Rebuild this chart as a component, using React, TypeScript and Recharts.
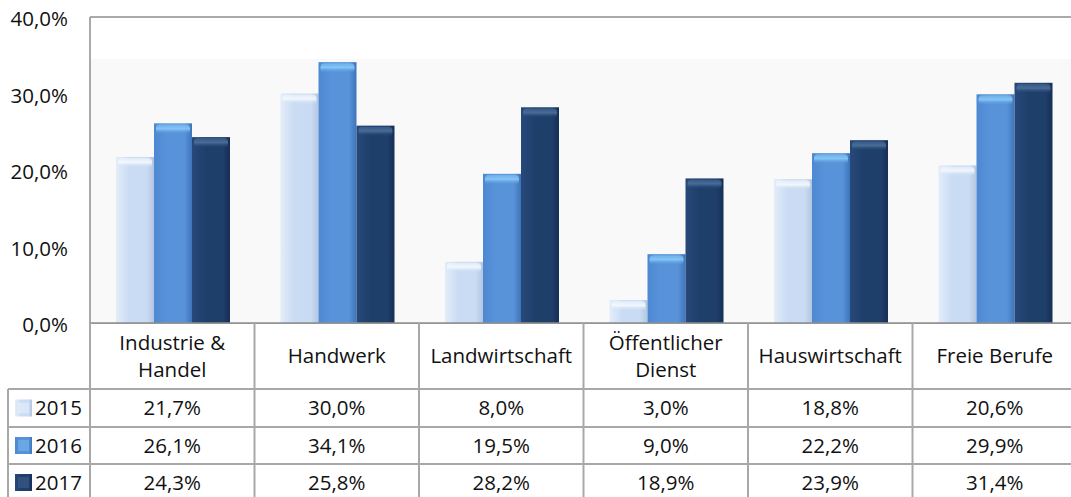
import React from "react";
import { BarChart, Bar, XAxis, YAxis, CartesianGrid, ReferenceArea } from "recharts";

// ---- data ----
const CATEGORIES = [
  "Industrie &\nHandel",
  "Handwerk",
  "Landwirtschaft",
  "Öffentlicher\nDienst",
  "Hauswirtschaft",
  "Freie Berufe",
];
const SERIES = ["2015", "2016", "2017"];
const VALUES_2015 = [21.7, 30.0, 8.0, 3.0, 18.8, 20.6];
const VALUES_2016 = [26.1, 34.1, 19.5, 9.0, 22.2, 29.9];
const VALUES_2017 = [24.3, 25.8, 28.2, 18.9, 23.9, 31.4];
const Y_TICKS = [0, 10, 20, 30, 40];

const SERIES_VALUES = [VALUES_2015, VALUES_2016, VALUES_2017];
const data = CATEGORIES.map((cat, i) => ({
  cat,
  s2015: VALUES_2015[i],
  s2016: VALUES_2016[i],
  s2017: VALUES_2017[i],
}));

const fmt = (v: number) => v.toFixed(1).replace(".", ",") + "%";

// ---- layout / style ----
const FONT = "'Open Sans', 'Noto Sans', sans-serif";
const FS = 20.5;
const CHART_W = 1077;
const CHART_H = 505;
const M_LEFT = 8;
const M_TOP = 17;
const YAXIS_W = 82;
const XAXIS_H = 182;
const COL_W = (CHART_W - M_LEFT - YAXIS_W) / CATEGORIES.length;
const HEADER_H = 66;
const ROW_HS = [38, 37, 37];
const TABLE_LEFT = 8;
const GRID = "#8e8e8e";
const TLINE = "#a8a8a8";
const TEXT = "#111";

const GRADS = [
  { id: "g2015", left: "#e4edf9", mid: "#c9dcf3", right: "#b2c6e0", cap: "#f4f8fe" },
  { id: "g2016", left: "#4d88d2", mid: "#5893da", right: "#3f74b9", cap: "#86c8f6" },
  { id: "g2017", left: "#27497a", mid: "#1f3f6b", right: "#162f55", cap: "#4a6f9a" },
];

const makeShape = (si: number) => (props: any) => {
  const { x, y, width, height } = props;
  if (!height || height <= 0) return <g />;
  const g = GRADS[si];
  const capH = Math.min(10, height);
  return (
    <g>
      <rect x={x} y={y} width={width} height={height} fill={`url(#${g.id})`} />
      <rect x={x + 2} y={y + 1} width={width - 4} height={capH} rx={4} fill={`url(#${g.id}cap)`} />
    </g>
  );
};

const YTick = (props: any) => {
  const { x, y, payload } = props;
  return (
    <text x={x} y={y + 2} dy="0.36em" textAnchor="end" fontFamily={FONT} fontSize={FS} fill={TEXT}>
      {fmt(payload.value)}
    </text>
  );
};

const TableTick = (props: any) => {
  const { x, y, payload } = props;
  const i: number = props.index ?? payload.index ?? 0;
  const left = x - COL_W / 2;
  const right = x + COL_W / 2;
  const lines = String(payload.value).split("\n");
  const lh = 26.5;
  const headerMid = y + HEADER_H / 2;
  const bottom = y + 200;
  const rowTops: number[] = [];
  let acc = y + HEADER_H;
  ROW_HS.forEach((h) => {
    rowTops.push(acc);
    acc += h;
  });
  const lineStart = i === 0 ? TABLE_LEFT : left;
  return (
    <g>
      <line x1={left} x2={left} y1={y} y2={bottom} stroke={TLINE} strokeWidth={2} />
      {i === CATEGORIES.length - 1 && (
        <line x1={right} x2={right} y1={y} y2={bottom} stroke={TLINE} strokeWidth={2} />
      )}
      {rowTops.map((t, r) => (
        <line key={"h" + r} x1={lineStart} x2={right} y1={t} y2={t} stroke={TLINE} strokeWidth={2} />
      ))}
      {i === 0 && (
        <line x1={TABLE_LEFT} x2={TABLE_LEFT} y1={y + HEADER_H} y2={bottom} stroke={TLINE} strokeWidth={2} />
      )}
      {i === 0 &&
        SERIES.map((s, r) => {
          const cy = rowTops[r] + ROW_HS[r] / 2;
          return (
            <g key={"lg" + r}>
              <rect x={15} y={cy - 8.5} width={17} height={17} fill={`url(#${GRADS[r].id})`} />
              <rect x={18} y={cy - 5.5} width={11} height={11} fill={GRADS[r].cap} opacity={0.4} />
              <text x={35} y={cy} dy="0.36em" textAnchor="start" fontFamily={FONT} fontSize={FS} fill={TEXT}>
                {s}
              </text>
            </g>
          );
        })}
      {lines.map((ln, k) => (
        <text
          key={"c" + k}
          x={x}
          y={headerMid + (k - (lines.length - 1) / 2) * lh}
          dy="0.36em"
          textAnchor="middle"
          fontFamily={FONT}
          fontSize={FS}
          fill={TEXT}
        >
          {ln}
        </text>
      ))}
      {SERIES_VALUES.map((vals, r) => (
        <text
          key={"v" + r}
          x={x}
          y={rowTops[r] + ROW_HS[r] / 2}
          dy="0.36em"
          textAnchor="middle"
          fontFamily={FONT}
          fontSize={FS}
          fill={TEXT}
        >
          {fmt(vals[i])}
        </text>
      ))}
    </g>
  );
};

export default function App() {
  return (
    <div
      style={{
        position: "absolute",
        left: 0,
        top: 0,
        width: 1071,
        height: 497,
        overflow: "hidden",
        background: "#fff",
      }}
    >
      <BarChart
        width={CHART_W}
        height={CHART_H}
        data={data}
        margin={{ top: M_TOP, right: 0, bottom: 0, left: M_LEFT }}
        barCategoryGap={26}
        barGap={0}
      >
        <defs>
          {GRADS.map((g) => (
            <linearGradient key={g.id} id={g.id} x1="0" y1="0" x2="1" y2="0">
              <stop offset="0%" stopColor={g.left} />
              <stop offset="35%" stopColor={g.mid} />
              <stop offset="80%" stopColor={g.mid} />
              <stop offset="100%" stopColor={g.right} />
            </linearGradient>
          ))}
          {GRADS.map((g) => (
            <linearGradient key={g.id + "cap"} id={g.id + "cap"} x1="0" y1="0" x2="0" y2="1">
              <stop offset="0%" stopColor={g.cap} stopOpacity={0.5} />
              <stop offset="45%" stopColor={g.cap} stopOpacity={0.95} />
              <stop offset="100%" stopColor={g.mid} stopOpacity={0} />
            </linearGradient>
          ))}
        </defs>
        <ReferenceArea y1={0} y2={34.5} fill="#f9f9f9" fillOpacity={1} stroke="none" ifOverflow="hidden" />
        <CartesianGrid vertical={false} stroke={GRID} strokeWidth={1.5} />
        <XAxis
          dataKey="cat"
          interval={0}
          height={XAXIS_H}
          tickSize={0}
          tickMargin={0}
          axisLine={{ stroke: GRID, strokeWidth: 1.5 }}
          tickLine={false}
          tick={<TableTick />}
        />
        <YAxis
          domain={[0, 40]}
          ticks={Y_TICKS}
          width={YAXIS_W}
          tickSize={0}
          tickMargin={22}
          tickLine={false}
          axisLine={{ stroke: GRID, strokeWidth: 1.5 }}
          tick={<YTick />}
        />
        <Bar dataKey="s2015" name={SERIES[0]} isAnimationActive={false} shape={makeShape(0)} />
        <Bar dataKey="s2016" name={SERIES[1]} isAnimationActive={false} shape={makeShape(1)} />
        <Bar dataKey="s2017" name={SERIES[2]} isAnimationActive={false} shape={makeShape(2)} />
      </BarChart>
    </div>
  );
}
